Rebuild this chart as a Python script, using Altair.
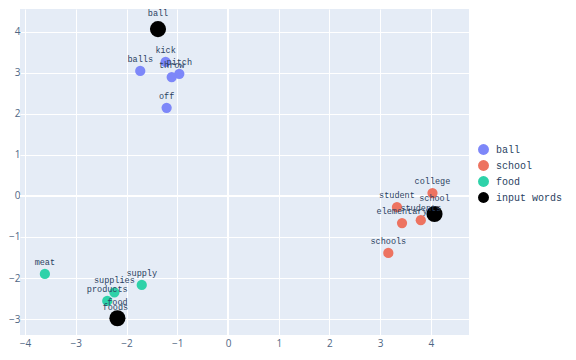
import altair as alt
import pandas as pd

# --- data ---
ball_words = ["kick", "balls", "pitch", "throw", "off"]
ball_x = [-1.23, -1.73, -0.96, -1.11, -1.21]
ball_y = [3.27, 3.05, 2.98, 2.90, 2.15]

school_words = ["college", "student", "students", "elementary", "schools"]
school_x = [4.03, 3.33, 3.80, 3.43, 3.16]
school_y = [0.07, -0.27, -0.59, -0.66, -1.39]

food_words = ["meat", "supply", "supplies", "products", "foods"]
food_x = [-3.61, -1.70, -2.24, -2.38, -2.22]
food_y = [-1.90, -2.17, -2.35, -2.56, -2.99]

input_words = ["ball", "school", "food"]
input_x = [-1.38, 4.07, -2.18]
input_y = [4.07, -0.44, -2.98]

groups = ["ball", "school", "food", "input words"]
colors = ["#7d87f9", "#ed7360", "#2ed2a9", "#000000"]

rows = []
for g, ws, xs, ys in [("ball", ball_words, ball_x, ball_y),
                      ("school", school_words, school_x, school_y),
                      ("food", food_words, food_x, food_y),
                      ("input words", input_words, input_x, input_y)]:
    for w, x, y in zip(ws, xs, ys):
        rows.append({"word": w, "x": x, "y": y, "group": g,
                     "order": groups.index(g),
                     "big": g == "input words"})
df = pd.DataFrame(rows)

xscale = alt.Scale(domain=[-4.1, 4.75], nice=False, zero=False)
yscale = alt.Scale(domain=[-3.39, 4.56], nice=False, zero=False)

base = alt.Chart(df)

xaxis = alt.Axis(values=[-4, -3, -2, -1, 0, 1, 2, 3, 4], title=None, grid=True,
                 gridColor="white", gridWidth=1, domain=False, ticks=False,
                 labelFontSize=10, labelColor="#506784", labelPadding=3,
                 labelFont="Open Sans", minExtent=0)
yaxis = alt.Axis(values=[-3, -2, -1, 0, 1, 2, 3, 4], title=None, grid=True,
                 gridColor="white", gridWidth=1, domain=False, ticks=False,
                 labelFontSize=10, labelColor="#506784", labelPadding=0,
                 labelFont="Open Sans", minExtent=0)

zero_x = alt.Chart(pd.DataFrame({"v": [0]})).mark_rule(color="white", strokeWidth=2).encode(
    x=alt.X("v:Q", scale=xscale, axis=xaxis))
zero_y = alt.Chart(pd.DataFrame({"v": [0]})).mark_rule(color="white", strokeWidth=2).encode(
    y=alt.Y("v:Q", scale=yscale, axis=yaxis))

points = base.mark_circle(opacity=1).encode(
    x=alt.X("x:Q", scale=xscale, axis=xaxis),
    y=alt.Y("y:Q", scale=yscale, axis=yaxis),
    color=alt.Color("group:N", scale=alt.Scale(domain=groups, range=colors),
                    legend=alt.Legend(title=None, orient="none", legendX=457, legendY=134,
                                      symbolType="circle", symbolSize=120,
                                      labelFont="Liberation Mono", labelFontSize=10,
                                      labelColor="#2a3f5f", rowPadding=4, padding=0,
                                      labelOffset=6, symbolOpacity=1)),
    size=alt.Size("big:N", scale=alt.Scale(domain=[False, True], range=[105, 260]), legend=None),
    order=alt.Order("order:Q"),
)

text_small = base.transform_filter("!datum.big").mark_text(
    font="Liberation Mono", fontSize=8.5, color="#2a3f5f", dy=-7, baseline="bottom").encode(
    x="x:Q", y="y:Q", text="word:N")
text_big = base.transform_filter("datum.big").mark_text(
    font="Liberation Mono", fontSize=8.5, color="#2a3f5f", dy=-11, baseline="bottom").encode(
    x="x:Q", y="y:Q", text="word:N")

chart = alt.layer(zero_x, zero_y, points, text_small, text_big).properties(
    width=449, height=326, padding=0
).configure_view(fill="#E5ECF6", strokeWidth=0)

chart.save("out.html", embed_options={"renderer": "svg", "actions": False})
